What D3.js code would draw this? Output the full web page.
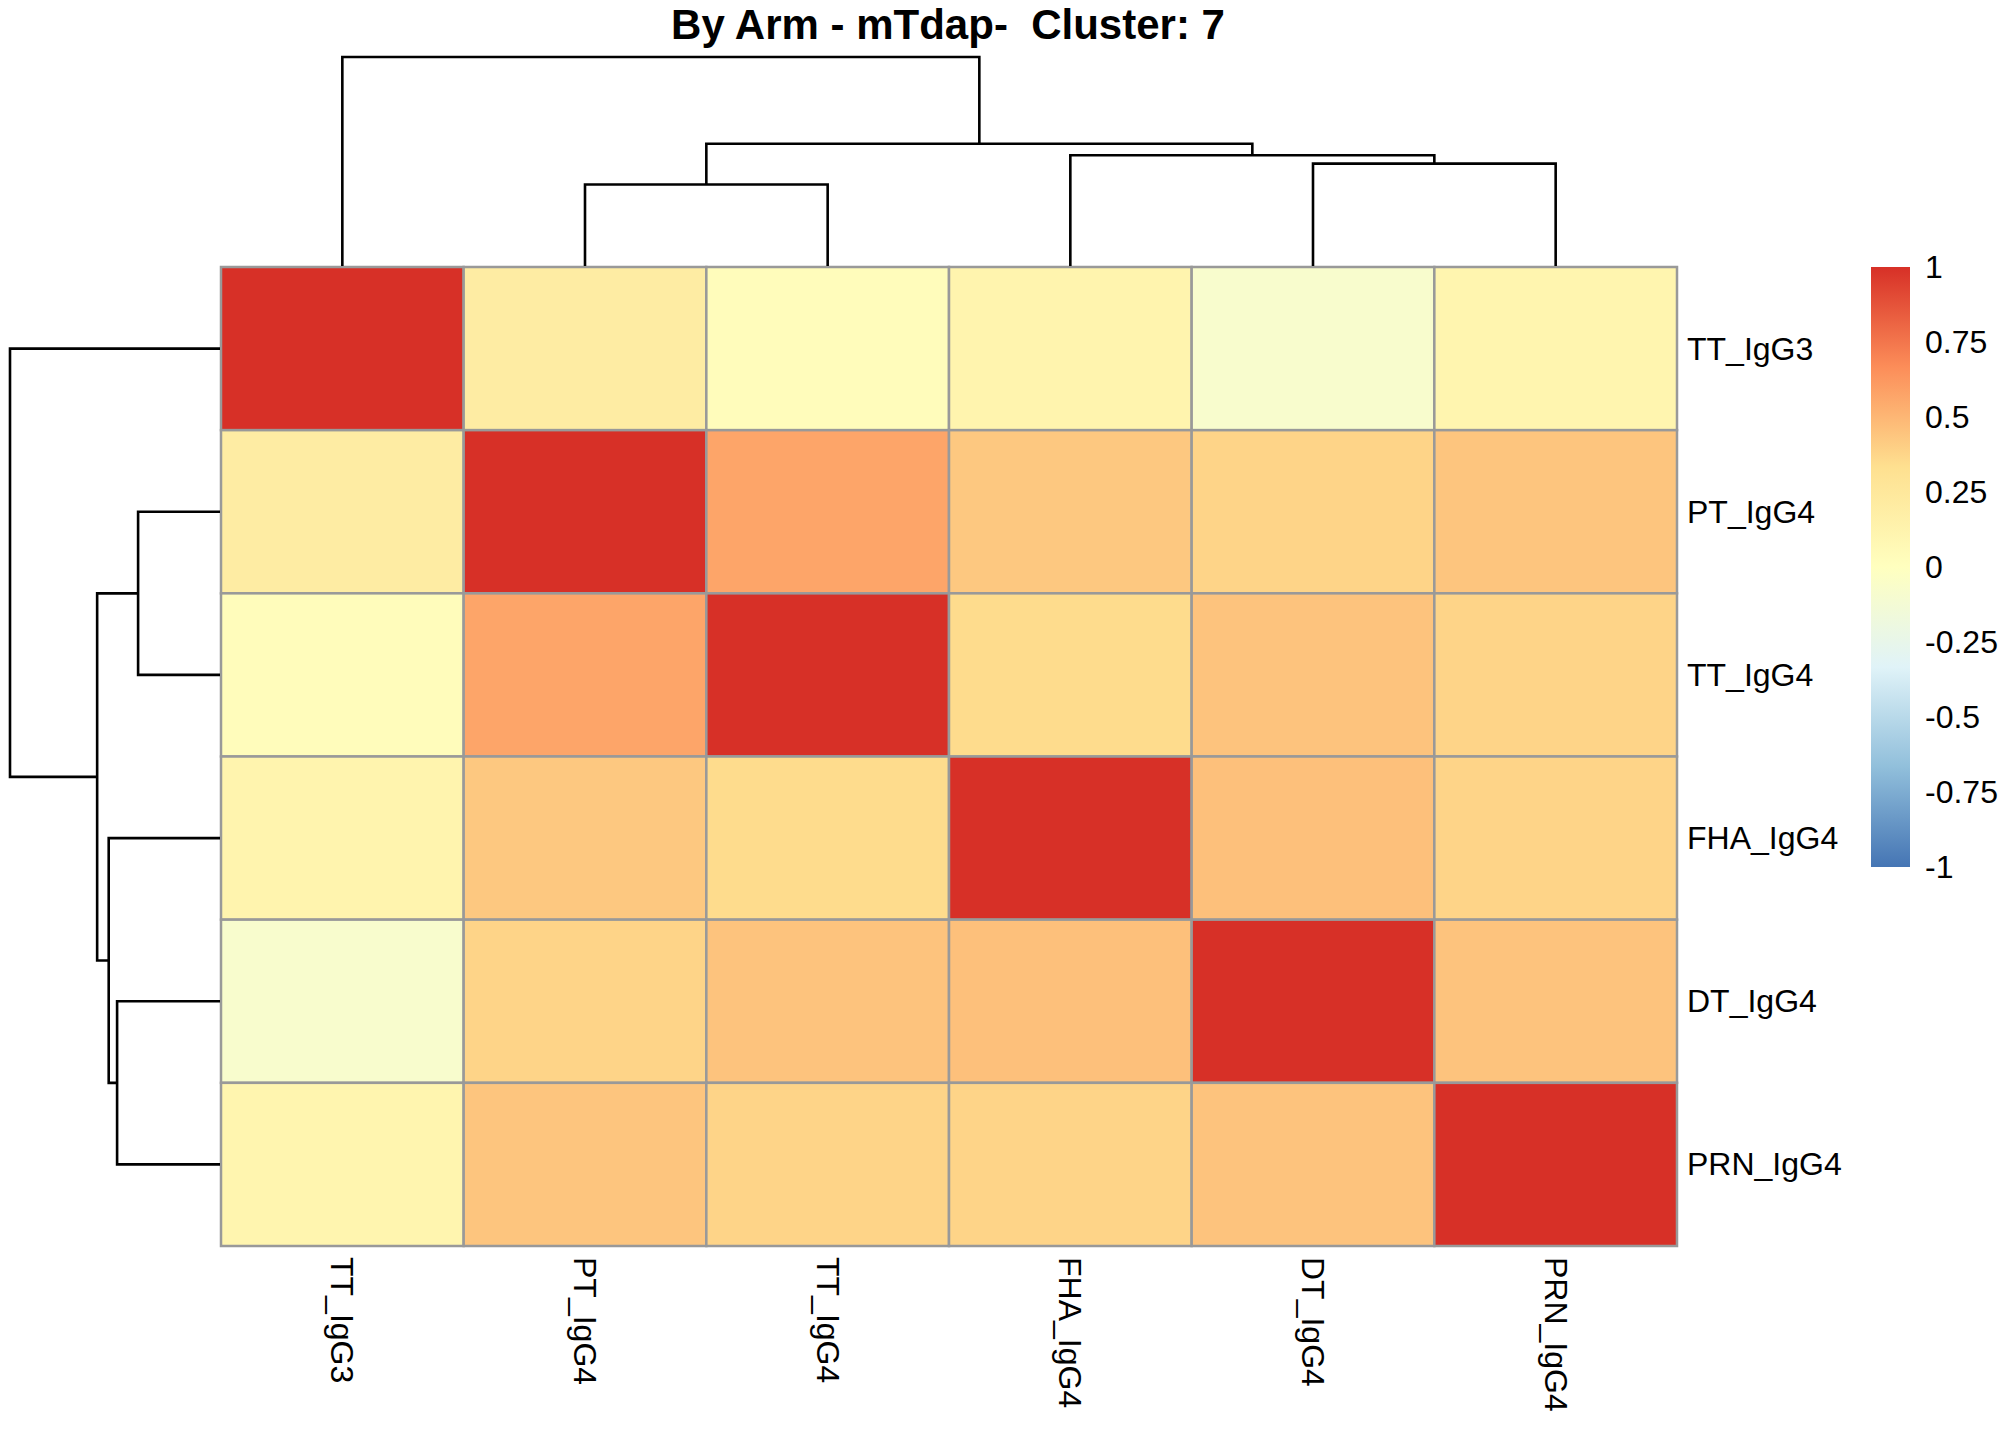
<!DOCTYPE html>
<html>
<head>
<meta charset="utf-8">
<script src="https://cdn.jsdelivr.net/npm/d3@7"></script>
<style>
  body { margin: 0; background: #fff; }
  text { font-family: "Liberation Sans", Arial, sans-serif; }
</style>
</head>
<body>
<div id="chart"></div>
<script>
// correlation heatmap, rows and columns in clustered order
var labels = ["TT_IgG3", "PT_IgG4", "TT_IgG4", "FHA_IgG4", "DT_IgG4", "PRN_IgG4"];

var corr = [
    [ 1.00, 0.20, 0.03, 0.12, -0.08, 0.11],
    [ 0.20, 1.00, 0.57, 0.43, 0.38, 0.44],
    [ 0.03, 0.57, 1.00, 0.35, 0.45, 0.38],
    [ 0.12, 0.43, 0.35, 1.00, 0.46, 0.38],
    [-0.08, 0.38, 0.45, 0.46, 1.00, 0.45],
    [ 0.11, 0.44, 0.38, 0.38, 0.45, 1.00]
];

// hclust style merges (negative = leaf index, 1-based), same tree for rows and cols
var merges = [[-2, -3], [-5, -6], [-4, 2], [1, 3], [-1, 4]];
var heights = [0.39, 0.49, 0.53, 0.585, 1.0];

var legendTicks = [1, 0.75, 0.5, 0.25, 0, -0.25, -0.5, -0.75, -1];
var palette = ["#4575B4", "#91BFDB", "#E0F3F8", "#FFFFBF", "#FEE090", "#FC8D59", "#D73027"];

var width = 2016, height = 1440;
var hm = {left: 221, right: 1677, top: 267, bottom: 1246};

var svg = d3.select("#chart").append("svg")
    .attr("width", width)
    .attr("height", height);

var x = d3.scaleBand().domain(labels).range([hm.left, hm.right]);
var y = d3.scaleBand().domain(labels).range([hm.top, hm.bottom]);

var color = d3.scaleLinear()
    .domain(d3.range(palette.length).map(function(i) { return -1 + 2 * i / (palette.length - 1); }))
    .range(palette)
    .interpolate(d3.interpolateRgb);

// cells
var cells = [];
corr.forEach(function(row, i) {
    row.forEach(function(v, j) {
        cells.push({r: labels[i], c: labels[j], v: v});
    });
});

svg.append("g").selectAll("rect")
    .data(cells)
    .enter().append("rect")
    .attr("x", function(d) { return x(d.c); })
    .attr("y", function(d) { return y(d.r); })
    .attr("width", x.bandwidth())
    .attr("height", y.bandwidth())
    .attr("fill", function(d) { return color(d.v); })
    .attr("stroke", "#999999")
    .attr("stroke-width", 2.5);

// dendrograms
var maxH = d3.max(heights);

function buildTree(scalePos) {
    var nodes = [];
    function get(k) {
        if (k < 0) return {pos: scalePos(labels[-k - 1]) + scalePos.bandwidth() / 2, h: 0};
        return nodes[k - 1];
    }
    var segs = [];
    merges.forEach(function(m, i) {
        var a = get(m[0]), b = get(m[1]);
        nodes.push({pos: (a.pos + b.pos) / 2, h: heights[i]});
        segs.push({a: a, b: b, h: heights[i]});
    });
    return segs;
}

var topH = d3.scaleLinear().domain([0, maxH]).range([hm.top - 1, 57]);
var leftH = d3.scaleLinear().domain([0, maxH]).range([hm.left - 1, 10]);

svg.append("g").selectAll("path")
    .data(buildTree(x))
    .enter().append("path")
    .attr("d", function(s) {
        return "M" + s.a.pos + "," + topH(s.a.h) + "V" + topH(s.h) +
            "H" + s.b.pos + "V" + topH(s.b.h);
    })
    .attr("fill", "none")
    .attr("stroke", "#000")
    .attr("stroke-width", 2.6);

svg.append("g").selectAll("path")
    .data(buildTree(y))
    .enter().append("path")
    .attr("d", function(s) {
        return "M" + leftH(s.a.h) + "," + s.a.pos + "H" + leftH(s.h) +
            "V" + s.b.pos + "H" + leftH(s.b.h);
    })
    .attr("fill", "none")
    .attr("stroke", "#000")
    .attr("stroke-width", 2.6);

// row labels
svg.append("g").selectAll("text")
    .data(labels)
    .enter().append("text")
    .attr("x", hm.right + 10)
    .attr("y", function(d) { return y(d) + y.bandwidth() / 2; })
    .attr("dominant-baseline", "central")
    .style("font-size", "32px")
    .text(function(d) { return d; });

// column labels, rotated
svg.append("g").selectAll("text")
    .data(labels)
    .enter().append("text")
    .attr("transform", function(d) {
        return "translate(" + (x(d) + x.bandwidth() / 2) + "," + (hm.bottom + 11) + ") rotate(90)";
    })
    .attr("dominant-baseline", "central")
    .style("font-size", "32px")
    .text(function(d) { return d; });

// title
svg.append("text")
    .attr("x", 948)
    .attr("y", 39)
    .attr("text-anchor", "middle")
    .style("font-size", "42px")
    .style("font-weight", "bold")
    .style("white-space", "pre")
    .text("By Arm - mTdap-  Cluster: 7");

// legend
var legY = d3.scaleLinear().domain([1, -1]).range([267, 867]);
var grad = svg.append("defs").append("linearGradient")
    .attr("id", "leg")
    .attr("x1", 0).attr("y1", 1).attr("x2", 0).attr("y2", 0);
grad.selectAll("stop")
    .data(palette)
    .enter().append("stop")
    .attr("offset", function(d, i) { return i / (palette.length - 1); })
    .attr("stop-color", function(d) { return d; });

svg.append("rect")
    .attr("x", 1871)
    .attr("y", legY(1))
    .attr("width", 39)
    .attr("height", legY(-1) - legY(1))
    .attr("fill", "url(#leg)");

svg.append("g").selectAll("text")
    .data(legendTicks)
    .enter().append("text")
    .attr("x", 1925)
    .attr("y", function(d) { return legY(d); })
    .attr("dominant-baseline", "central")
    .style("font-size", "32px")
    .text(function(d) { return d; });
</script>
</body>
</html>
